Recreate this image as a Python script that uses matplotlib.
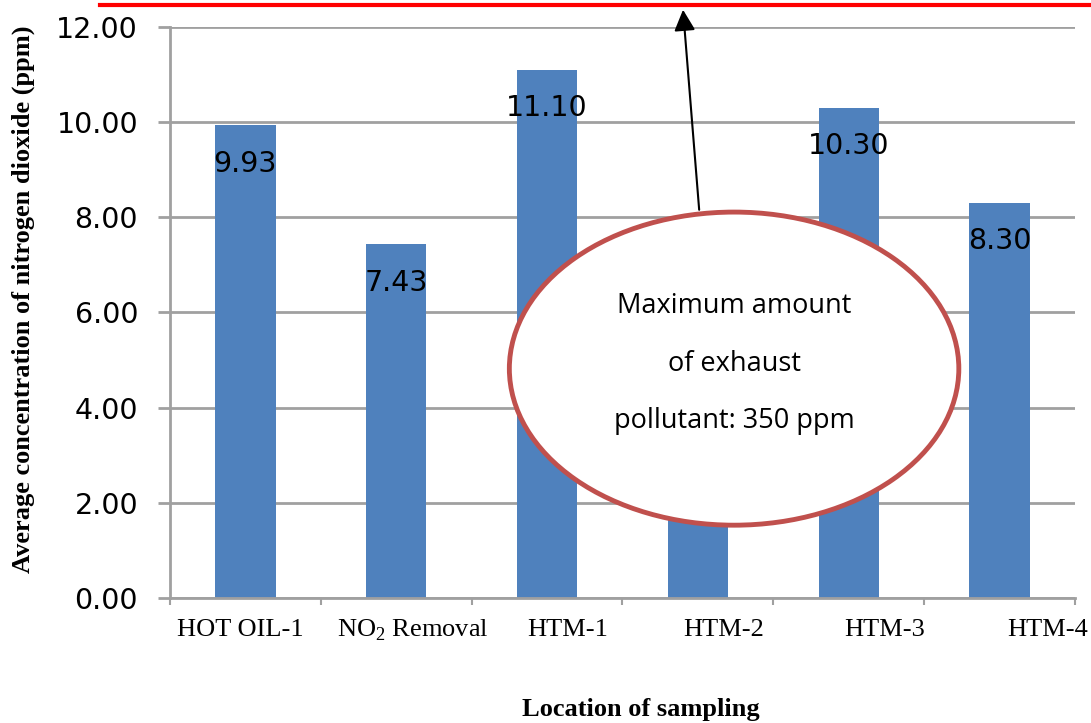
import numpy as np
import matplotlib
matplotlib.use("Agg")
import matplotlib.pyplot as plt
from matplotlib.patches import Ellipse
from matplotlib.lines import Line2D

# Datos de NO2 por punto de muestreo
locations = ["HOT OIL-1", r"NO$_{\mathregular{2}}$ Removal", "HTM-1", "HTM-2", "HTM-3", "HTM-4"]
no2_ppm = [9.93, 7.43, 11.10, 7.00, 10.30, 8.30]
show_value = [True, True, True, False, True, True]  # HTM-2 queda tapada por la elipse
label_x = [-0.036, 1.111, 2.139, 3.174, 4.241, 5.316]
y_ticks = [0, 2, 4, 6, 8, 10, 12]
limit_text = "Maximum amount\nof exhaust\npollutant: 350 ppm"

bar_color = "#4F81BD"
grid_color = "#A0A0A0"

fig = plt.figure(figsize=(10.91, 7.23), dpi=100)
ax = fig.add_axes([0.1558, 0.1729, 0.8295, 0.7898])

x = np.arange(len(locations))
ax.bar(x, no2_ppm, width=0.4, color=bar_color, zorder=2)

# Etiquetas de valor dentro de cada barra
for xi, v, show in zip(x, no2_ppm, show_value):
    if show:
        ax.text(xi, v - 0.8, f"{v:.2f}", ha="center", va="center",
                fontsize=20.5, family="DejaVu Sans", color="black", zorder=3)

ax.set_xlim(-0.5, 5.5)
ax.set_ylim(0, 12)
ax.set_yticks(y_ticks)
ax.set_yticklabels([f"{t:.2f}" for t in y_ticks], fontsize=20.5, family="DejaVu Sans")
ax.yaxis.grid(True, color=grid_color, linewidth=2, zorder=0)
ax.set_axisbelow(True)

# Marcas en los límites de cada categoría
ax.set_xticks(np.arange(-0.5, 6.0, 1.0))
ax.set_xticklabels([])
ax.tick_params(axis="x", direction="out", length=5, width=1.5, color=grid_color)
ax.tick_params(axis="y", direction="out", length=9, width=2, color=grid_color, pad=14)

for side in ["top", "right"]:
    ax.spines[side].set_visible(False)
for side in ["left", "bottom"]:
    ax.spines[side].set_color(grid_color)
    ax.spines[side].set_linewidth(2)

for lx, name in zip(label_x, locations):
    ax.text(lx, -0.68, name, ha="center", va="center", fontsize=19,
            family="Liberation Serif", clip_on=False)

ax.text(2.62, -2.35, "Location of sampling", ha="center", va="center",
        fontsize=19, fontweight="bold", family="Liberation Serif")
fig.text(0.021, 0.586, "Average concentration of nitrogen dioxide (ppm)",
         rotation=90, ha="center", va="center", fontsize=19,
         fontweight="bold", family="Liberation Serif")

# Límite máximo (línea roja por encima del gráfico)
fig.add_artist(Line2D([100 / 1091, 1.0], [1 - 5 / 723, 1 - 5 / 723],
                      color="#FF0000", linewidth=3))

# Flecha desde la elipse hasta el límite
ax.annotate("", xy=(2.90, 12.42), xytext=(3.01, 8.1),
            arrowprops=dict(arrowstyle="-|>", color="black", lw=1.5,
                            mutation_scale=32),
            annotation_clip=False, zorder=4)

ell = Ellipse((3.24, 4.82), width=2.98, height=6.58, facecolor="white",
              edgecolor="#C0504D", linewidth=3.5, zorder=5)
ax.add_patch(ell)
ax.text(3.24, 4.92, limit_text, ha="center", va="center", fontsize=19.5,
        family="Open Sans", linespacing=2.4, zorder=6)

fig.savefig("out.png", dpi=100)
